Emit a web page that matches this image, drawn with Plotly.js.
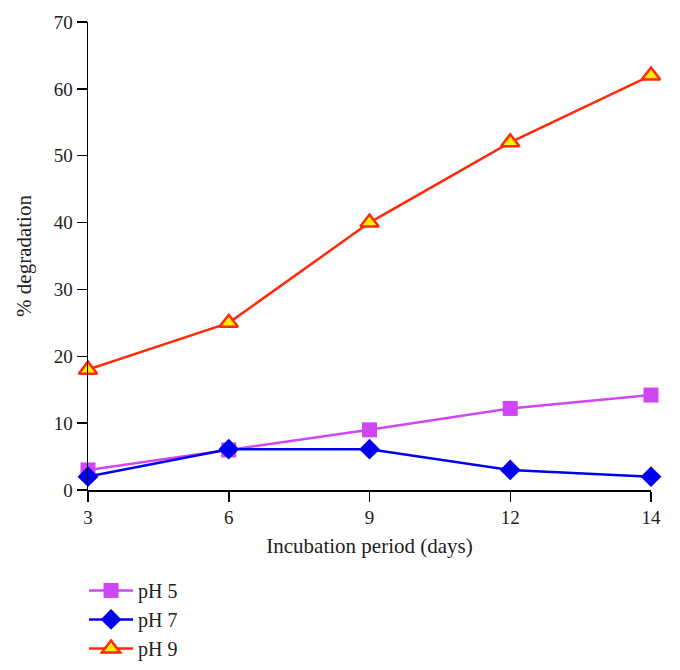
<!DOCTYPE html>
<html>
<head>
<meta charset="utf-8">
<script src="https://cdn.plot.ly/plotly-3.0.1.min.js"></script>
<style>html,body{margin:0;padding:0;background:#fff;}#chart{width:680px;height:670px;}</style>
</head>
<body>
<div id="chart"></div>
<script>
const days = ["3", "6", "9", "12", "14"];
const ph5 = [3, 6, 9, 12.2, 14.2];
const ph7 = [2, 6.1, 6.1, 3, 2];
const ph9 = [18, 25, 40, 52, 62];
const seriesNames = ["pH 5", "pH 7", "pH 9"];

const font = "'Liberation Serif', 'DejaVu Serif', serif";

const traces = [
  {x: days, y: ph5, name: seriesNames[0], type: "scatter", mode: "lines+markers",
   line: {color: "#d046f2", width: 2.5},
   marker: {symbol: "square", size: 15, color: "#d046f2"}, cliponaxis: false},
  {x: days, y: ph7, name: seriesNames[1], type: "scatter", mode: "lines+markers",
   line: {color: "#0000f0", width: 2.5},
   marker: {symbol: "diamond", size: 16, color: "#0000f0"}, cliponaxis: false},
  {x: days, y: ph9, name: seriesNames[2], type: "scatter", mode: "lines+markers",
   line: {color: "#ff2a0a", width: 2.5},
   marker: {symbol: "triangle-up", size: 16, color: "#ffee00", line: {color: "#ff2a0a", width: 2.5}}, cliponaxis: false}
];

const layout = {
  width: 680, height: 670,
  margin: {l: 88, r: 29, t: 22, b: 180, autoexpand: false},
  paper_bgcolor: "#fff", plot_bgcolor: "#fff",
  font: {family: font, size: 19, color: "#222"},
  showlegend: true,
  legend: {x: -0.007, y: -0.173, xanchor: "left", yanchor: "top", orientation: "v",
           font: {family: font, size: 20, color: "#222"}, tracegroupgap: 0, itemwidth: 44},
  xaxis: {
    type: "category", range: [0, 4],
    showline: true, linecolor: "#000", linewidth: 1.5,
    ticks: "outside", ticklen: 10, tickcolor: "#000", tickwidth: 1.5,
    showgrid: false, zeroline: false,
    tickfont: {family: font, size: 19},
    title: {text: "Incubation period (days)", font: {family: font, size: 21}, standoff: 11}
  },
  yaxis: {
    range: [0, 70], dtick: 10, tick0: 0,
    showline: true, linecolor: "#000", linewidth: 1.5,
    ticks: "outside", ticklen: 10, tickcolor: "#000", tickwidth: 1.5,
    showgrid: false, zeroline: false,
    tickfont: {family: font, size: 19},
    title: {text: "% degradation", font: {family: font, size: 21}, standoff: 16}
  }
};

Plotly.newPlot("chart", traces, layout, {displayModeBar: false, staticPlot: true});
</script>
</body>
</html>
